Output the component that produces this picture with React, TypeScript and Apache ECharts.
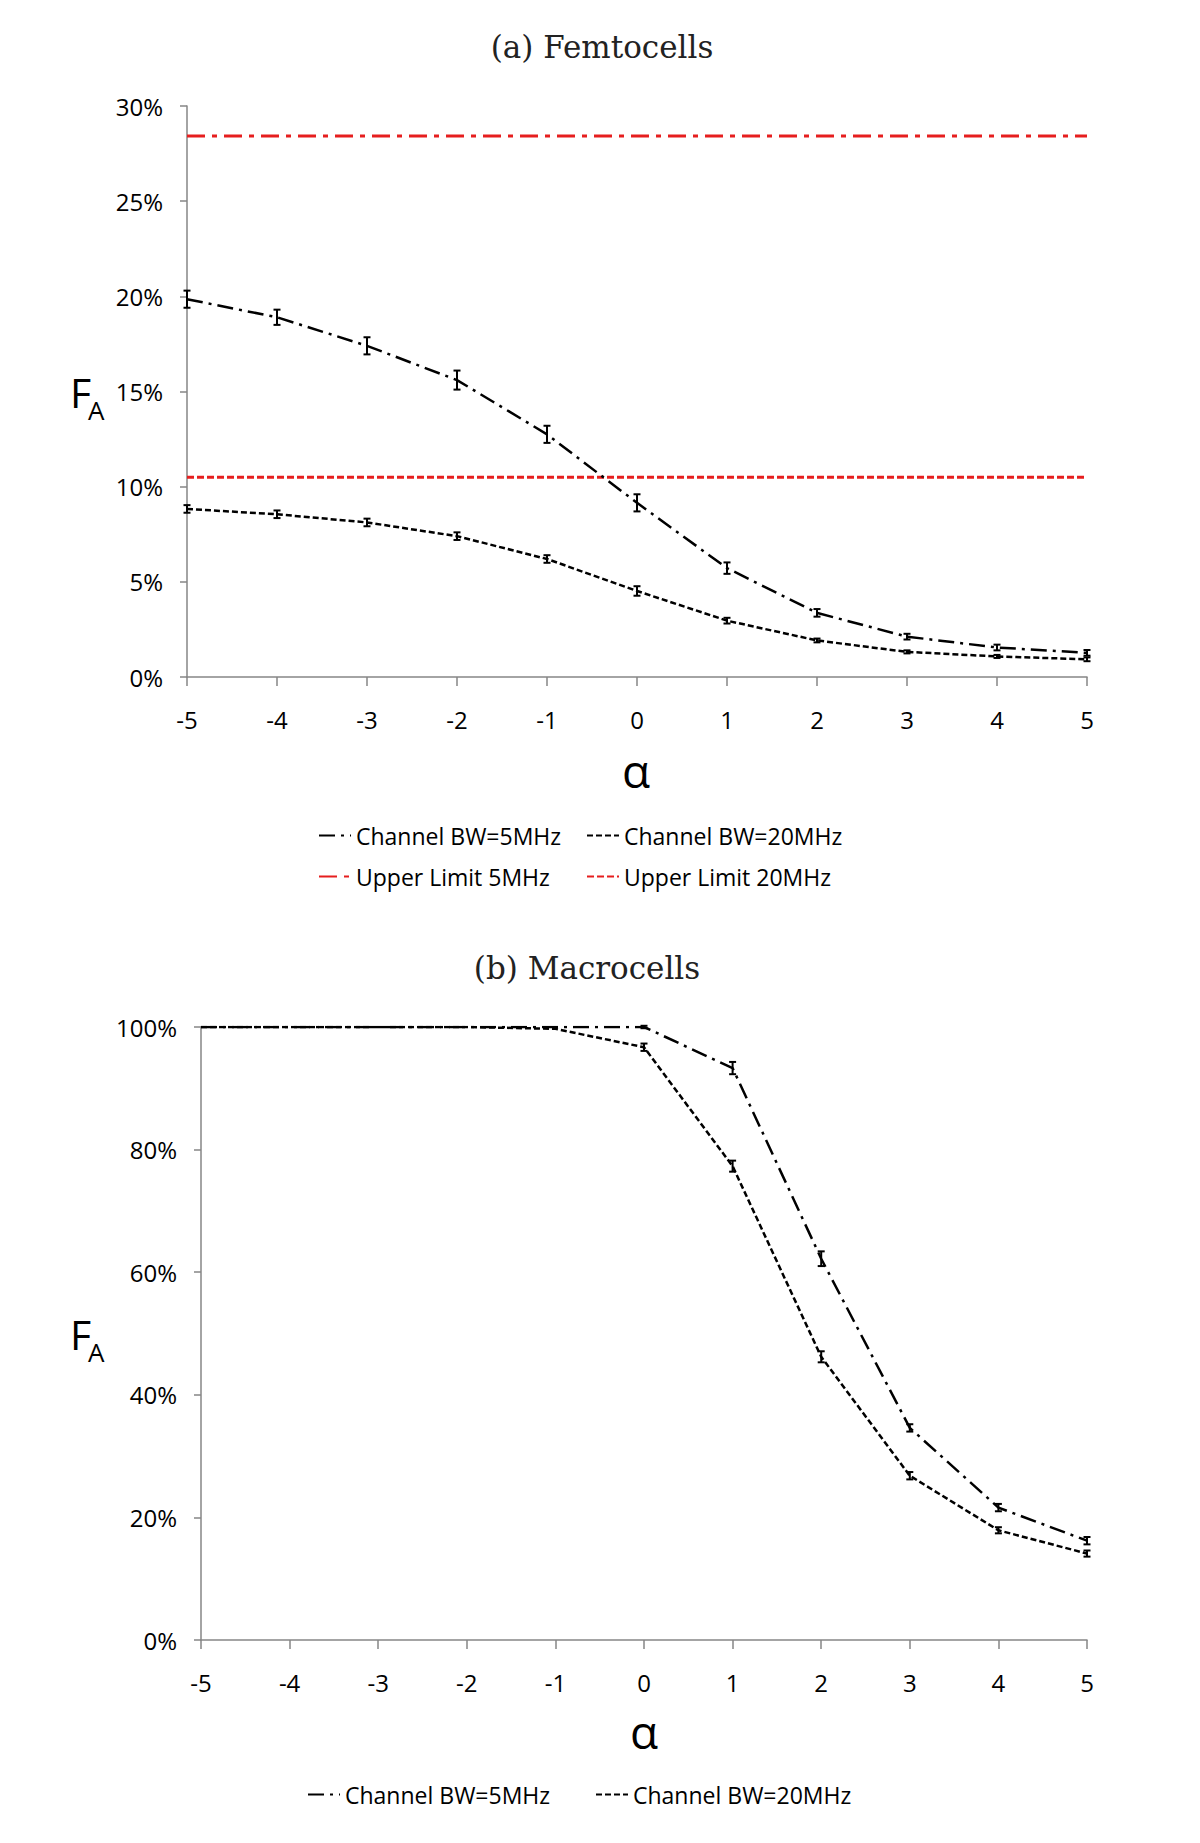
import React, { useEffect, useRef } from "react";
import * as echarts from "echarts";

const alpha = [-5, -4, -3, -2, -1, 0, 1, 2, 3, 4, 5];

// (a) Femtocells, values in %
const femto5 = [19.85, 18.9, 17.4, 15.6, 12.75, 9.15, 5.72, 3.37, 2.12, 1.55, 1.27];
const femto5Err = [0.45, 0.4, 0.45, 0.5, 0.45, 0.45, 0.3, 0.2, 0.15, 0.15, 0.15];
const femto20 = [8.83, 8.55, 8.12, 7.4, 6.2, 4.52, 2.96, 1.92, 1.32, 1.08, 0.93];
const femto20Err = [0.2, 0.2, 0.2, 0.2, 0.2, 0.25, 0.15, 0.1, 0.08, 0.08, 0.1];
const upperLimit5 = 28.43;
const upperLimit20 = 10.49;

// (b) Macrocells, values in %
const macro5 = [100, 100, 100, 100, 100, 100, 93.3, 62.2, 34.6, 21.6, 16.2];
const macro5Err = [0, 0, 0, 0, 0, 0.2, 1.0, 1.2, 0.6, 0.6, 0.6];
const macro20 = [100, 100, 100, 100, 99.7, 96.7, 77.3, 46.2, 26.8, 17.9, 14.1];
const macro20Err = [0, 0, 0, 0, 0, 0.6, 0.9, 0.9, 0.6, 0.5, 0.5];

const femtoTicks = { min: 0, max: 30, interval: 5 };
const macroTicks = { min: 0, max: 100, interval: 20 };

const NAME_5 = "Channel BW=5MHz";
const NAME_20 = "Channel BW=20MHz";
const NAME_U5 = "Upper Limit 5MHz";
const NAME_U20 = "Upper Limit 20MHz";

const RED = "#e61e1e";
const AXIS = "#868686";
const SANS = "Open Sans";
const DASHDOT = [16, 6, 3, 6];
const DASHED = [6, 3];

function errorSeries(id: string, vals: number[], errs: number[], gi: number) {
  return {
    type: "custom",
    id,
    xAxisIndex: gi,
    yAxisIndex: gi,
    silent: true,
    z: 5,
    data: alpha
      .map((a, i) => [a, vals[i] - errs[i], vals[i] + errs[i]])
      .filter((d, i) => errs[i] > 0),
    encode: { x: 0, y: [1, 2] },
    renderItem: (params: any, api: any) => {
      const x = api.value(0);
      const lo = api.coord([x, api.value(1)]);
      const hi = api.coord([x, api.value(2)]);
      const hw = 3.5;
      const st = { stroke: "#000", lineWidth: 2 };
      return {
        type: "group",
        children: [
          { type: "line", shape: { x1: lo[0], y1: lo[1], x2: hi[0], y2: hi[1] }, style: st },
          { type: "line", shape: { x1: lo[0] - hw, y1: lo[1], x2: lo[0] + hw, y2: lo[1] }, style: st },
          { type: "line", shape: { x1: hi[0] - hw, y1: hi[1], x2: hi[0] + hw, y2: hi[1] }, style: st },
        ],
      };
    },
  };
}

function lineSeries(name: string, vals: number[], gi: number, color: string, dash: number[], width: number) {
  return {
    type: "line",
    name,
    xAxisIndex: gi,
    yAxisIndex: gi,
    symbol: "none",
    showSymbol: false,
    data: alpha.map((a, i) => [a, vals[i]]),
    lineStyle: { color, width, type: dash },
    itemStyle: { color },
    z: 3,
  };
}

function legendAt(name: string, left: number, top: number) {
  return {
    data: [name],
    left,
    top,
    padding: 0,
    itemWidth: 32,
    itemHeight: 14,
    itemStyle: { color: "rgba(0,0,0,0)", borderWidth: 0, borderColor: "rgba(0,0,0,0)" },
    textStyle: { fontFamily: SANS, fontSize: 23, color: "#000" },
  };
}

function xAxisDef(gi: number) {
  return {
    type: "value",
    gridIndex: gi,
    min: -5,
    max: 5,
    interval: 1,
    axisLine: { show: true, onZero: false, lineStyle: { color: AXIS, width: 1.5 } },
    axisTick: { show: true, length: 9, lineStyle: { color: AXIS, width: 1.5 } },
    axisLabel: { margin: 30, fontFamily: SANS, fontSize: 24, color: "#000" },
    splitLine: { show: false },
  };
}

function yAxisDef(gi: number, t: { min: number; max: number; interval: number }) {
  return {
    type: "value",
    gridIndex: gi,
    min: t.min,
    max: t.max,
    interval: t.interval,
    axisLine: { show: true, onZero: false, lineStyle: { color: AXIS, width: 1.5 } },
    axisTick: { show: true, length: 7, lineStyle: { color: AXIS, width: 1.5 } },
    axisLabel: { margin: 24, fontFamily: SANS, fontSize: 24, color: "#000", formatter: "{value}%" },
    splitLine: { show: false },
  };
}

export default function App() {
  const ref = useRef<HTMLDivElement>(null);
  useEffect(() => {
    if (!ref.current) return;
    const chart = echarts.init(ref.current, undefined, { renderer: "svg" });
    const option = {
      animation: false,
      backgroundColor: "#fff",
      grid: [
        { left: 187, right: 113, top: 106, height: 571 },
        { left: 201, right: 113, top: 1027, height: 613 },
      ],
      xAxis: [xAxisDef(0), xAxisDef(1)],
      yAxis: [yAxisDef(0, femtoTicks), yAxisDef(1, macroTicks)],
      legend: [
        legendAt(NAME_5, 318, 824),
        legendAt(NAME_20, 586, 824),
        legendAt(NAME_U5, 318, 865),
        legendAt(NAME_U20, 586, 865),
        legendAt(NAME_5, 307, 1783),
        legendAt(NAME_20, 595, 1783),
      ],
      graphic: [
        { type: "text", x: 602, y: 47, style: { text: "(a) Femtocells", font: "31px 'DejaVu Serif'", fill: "#222", textAlign: "center", textVerticalAlign: "middle" } },
        { type: "text", x: 587, y: 968, style: { text: "(b) Macrocells", font: "31px 'DejaVu Serif'", fill: "#222", textAlign: "center", textVerticalAlign: "middle" } },
        { type: "text", x: 636, y: 770, style: { text: "α", font: "46px 'Open Sans'", fill: "#000", textAlign: "center", textVerticalAlign: "middle" } },
        { type: "text", x: 644, y: 1731, style: { text: "α", font: "46px 'Open Sans'", fill: "#000", textAlign: "center", textVerticalAlign: "middle" } },
        { type: "text", x: 70, y: 392, style: { text: "F", font: "41px 'Open Sans'", fill: "#000", textAlign: "left", textVerticalAlign: "middle" } },
        { type: "text", x: 88, y: 410, style: { text: "A", font: "26px 'Open Sans'", fill: "#000", textAlign: "left", textVerticalAlign: "middle" } },
        { type: "text", x: 70, y: 1334, style: { text: "F", font: "41px 'Open Sans'", fill: "#000", textAlign: "left", textVerticalAlign: "middle" } },
        { type: "text", x: 88, y: 1352, style: { text: "A", font: "26px 'Open Sans'", fill: "#000", textAlign: "left", textVerticalAlign: "middle" } },
      ],
      series: [
        lineSeries(NAME_U5, alpha.map(() => upperLimit5), 0, RED, [18, 7, 5, 7], 3),
        lineSeries(NAME_U20, alpha.map(() => upperLimit20), 0, RED, [7, 3], 3),
        lineSeries(NAME_5, femto5, 0, "#000", DASHDOT, 2.5),
        lineSeries(NAME_20, femto20, 0, "#000", DASHED, 2.5),
        errorSeries("e5a", femto5, femto5Err, 0),
        errorSeries("e20a", femto20, femto20Err, 0),
        lineSeries(NAME_5, macro5, 1, "#000", DASHDOT, 2.5),
        lineSeries(NAME_20, macro20, 1, "#000", DASHED, 2.5),
        errorSeries("e5b", macro5, macro5Err, 1),
        errorSeries("e20b", macro20, macro20Err, 1),
      ],
    };
    chart.setOption(option as any);
    return () => chart.dispose();
  }, []);
  return (
    <div
      ref={ref}
      style={{ position: "absolute", left: 0, top: 0, width: 1200, height: 1843, background: "#fff" }}
    />
  );
}
